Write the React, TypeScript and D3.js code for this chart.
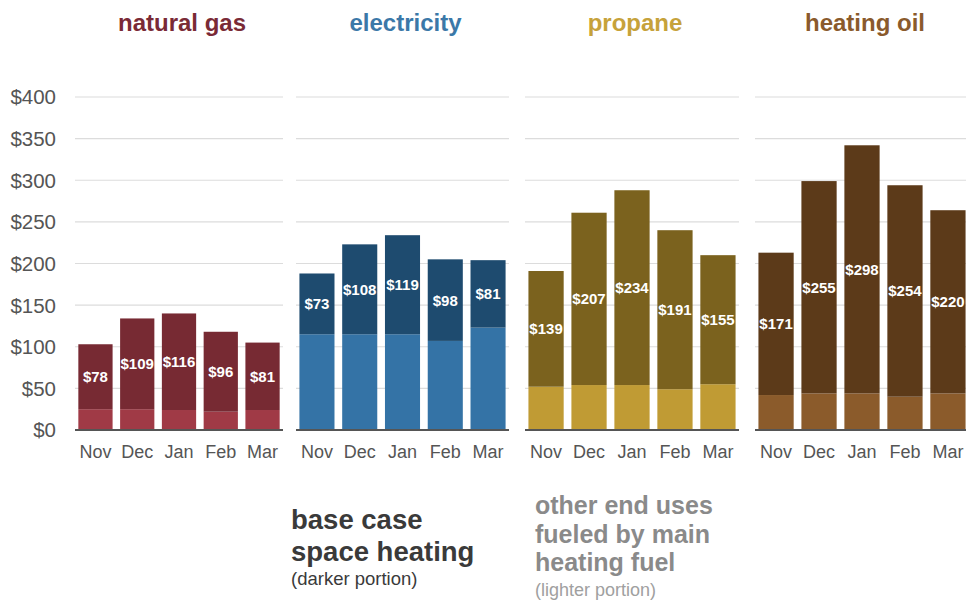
import React from "react";
import * as d3 from "d3";

const months = ["Nov", "Dec", "Jan", "Feb", "Mar"];
const fuels = ["natural gas", "electricity", "propane", "heating oil"];
// base case space heating (darker portion, labelled)
const spaceHeating = [
  [78, 109, 116, 96, 81],
  [73, 108, 119, 98, 81],
  [139, 207, 234, 191, 155],
  [171, 255, 298, 254, 220],
];
// other end uses fueled by main heating fuel (lighter portion)
const otherUses = [
  [25, 25, 24, 22, 24],
  [115, 115, 115, 107, 123],
  [52, 54, 54, 49, 55],
  [42, 44, 44, 40, 44],
];
const yTicks = [0, 50, 100, 150, 200, 250, 300, 350, 400];

const darkColors = ["#772a33", "#1e4b6f", "#7b621e", "#5c3a19"];
const lightColors = ["#a03a46", "#3473a6", "#c09b34", "#8b5b2b"];
const titleColors = ["#7a2a36", "#3b78a8", "#c6a23a", "#8a5a2c"];

const panelLeft = [75, 296, 525, 755];
const panelWidth = [208, 213, 214, 214];

const FONT = "'Liberation Sans', Arial, Helvetica, sans-serif";

export default function App() {
  const W = 966;
  const H = 601;
  const y = d3.scaleLinear().domain([0, 400]).range([430, 97]);

  return (
    <svg
      width={W}
      height={H}
      style={{ position: "absolute", left: 0, top: 0, background: "#fff" }}
      fontFamily={FONT}
    >
      {/* y axis labels */}
      {yTicks.map((t) => (
        <text
          key={t}
          x={56}
          y={y(t)}
          dy="0.36em"
          textAnchor="end"
          fontSize={20.5}
          fill="#555"
        >
          {d3.format("$,")(t)}
        </text>
      ))}
      {fuels.map((fuel, fi) => {
        const x = d3
          .scaleBand<string>()
          .domain(months)
          .range([panelLeft[fi], panelLeft[fi] + panelWidth[fi]])
          .paddingInner(0.18)
          .paddingOuter(0.08);
        const x0 = panelLeft[fi];
        const x1 = panelLeft[fi] + panelWidth[fi];
        return (
          <g key={fuel}>
            <text
              x={(x0 + x1) / 2 + 3}
              y={31}
              textAnchor="middle"
              fontSize={24}
              fontWeight="bold"
              fill={titleColors[fi]}
            >
              {fuel}
            </text>
            {yTicks
              .filter((t) => t > 0)
              .map((t) => (
                <line
                  key={t}
                  x1={x0}
                  x2={x1}
                  y1={y(t)}
                  y2={y(t)}
                  stroke="#dcdcdc"
                  strokeWidth={1.2}
                />
              ))}
            {months.map((m, mi) => {
              const light = otherUses[fi][mi];
              const dark = spaceHeating[fi][mi];
              const bx = x(m)!;
              const bw = x.bandwidth();
              return (
                <g key={m}>
                  <rect
                    x={bx}
                    width={bw}
                    y={y(light)}
                    height={y(0) - y(light)}
                    fill={lightColors[fi]}
                  />
                  <rect
                    x={bx}
                    width={bw}
                    y={y(light + dark)}
                    height={y(light) - y(light + dark)}
                    fill={darkColors[fi]}
                  />
                  <text
                    x={bx + bw / 2}
                    y={(y(light) + y(light + dark)) / 2}
                    dy="0.36em"
                    textAnchor="middle"
                    fontSize={15}
                    fontWeight="bold"
                    fill="#fff"
                  >
                    {"$" + dark}
                  </text>
                  <text
                    x={bx + bw / 2}
                    y={458}
                    textAnchor="middle"
                    fontSize={18}
                    fill="#555"
                  >
                    {m}
                  </text>
                </g>
              );
            })}
            <line
              x1={x0}
              x2={x1}
              y1={y(0)}
              y2={y(0)}
              stroke="#555"
              strokeWidth={2}
            />
          </g>
        );
      })}
      {/* legend annotations */}
      <g>
        <text x={291} y={529} fontSize={27.5} fontWeight="bold" fill="#3a3a3a">
          base case
        </text>
        <text x={291} y={561} fontSize={27.5} fontWeight="bold" fill="#3a3a3a">
          space heating
        </text>
        <text x={291} y={585} fontSize={18.5} fill="#3a3a3a">
          (darker portion)
        </text>
        <text x={535} y={514} fontSize={25} fontWeight="bold" fill="#8a8a8a">
          other end uses
        </text>
        <text x={535} y={543} fontSize={25} fontWeight="bold" fill="#8a8a8a">
          fueled by main
        </text>
        <text x={535} y={571} fontSize={25} fontWeight="bold" fill="#8a8a8a">
          heating fuel
        </text>
        <text x={535} y={596} fontSize={18} fill="#a0a0a0">
          (lighter portion)
        </text>
      </g>
    </svg>
  );
}
